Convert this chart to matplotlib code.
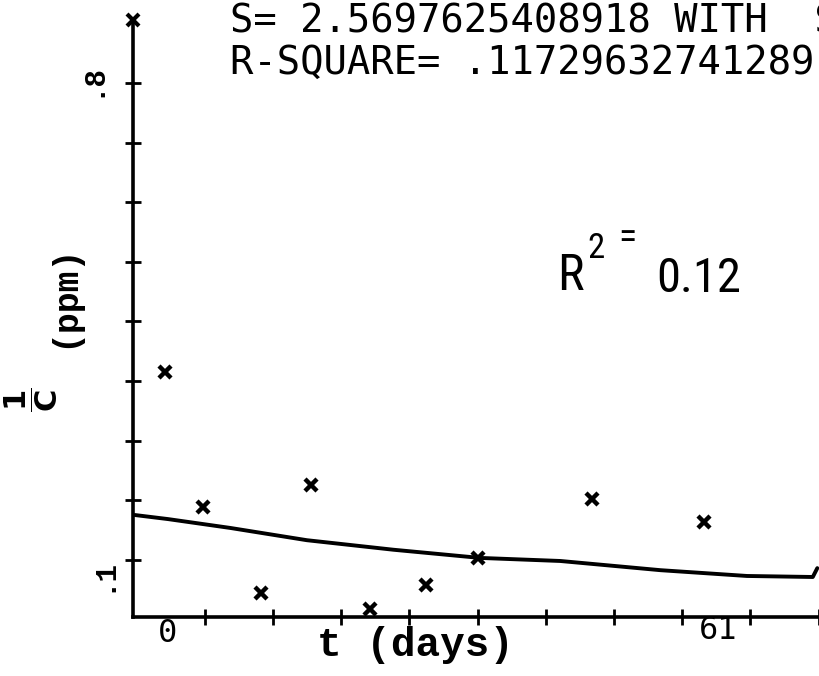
import matplotlib.pyplot as plt
from matplotlib import font_manager

t_obs = [-0.3, 3.9, 10.3, 15.9, 22.4, 28.6, 34.4, 47.0, 59.4]
inv_c = [0.376, 0.178, 0.052, 0.210, 0.028, 0.063, 0.103, 0.190, 0.156]

# fitted curve as drawn
t_fit = [-3.7, 0.0, 6.9, 15.4, 25.0, 34.6, 43.5, 54.6, 64.2, 71.5, 72.0]
y_fit = [0.166, 0.160, 0.147, 0.129, 0.115, 0.103, 0.0985, 0.085, 0.0765, 0.075, 0.088]

xtick_pos = [4.1 + 7.56 * k for k in range(10)]
ytick_pos = [0.1 + 0.0875 * k for k in range(9)]

mono = 'DejaVu Sans Mono'
typew = 'Liberation Mono'
names = {f.name for f in font_manager.fontManager.ttflist}
narrow = 'Roboto'
for cand in ['Liberation Sans Narrow', 'Roboto Condensed', 'Open Sans Condensed',
             'Noto Sans Condensed']:
    if cand in names:
        narrow = cand
        break

fig = plt.figure(figsize=(8.2, 6.76), dpi=100)
ax = fig.add_axes([0.1622, 0.0873, 0.8378, 0.8831])

ax.plot(t_fit, y_fit, color='black', lw=2.8, solid_capstyle='round')
ax.plot(t_obs, inv_c, linestyle='none', marker='x', color='black',
        markersize=9, markeredgewidth=3.2)

ax.set_xlim(-3.88, 72.3)
ax.set_ylim(0.0163, 0.8925)

for s in ['top', 'right']:
    ax.spines[s].set_visible(False)
for s in ['left', 'bottom']:
    ax.spines[s].set_linewidth(2.6)

ax.set_xticks(xtick_pos)
ax.set_yticks(ytick_pos)
ax.set_xticklabels([])
ax.set_yticklabels([])
ax.tick_params(direction='inout', length=11, width=2, color='black')

# axis end mark
ax.plot([0], [1.0], transform=ax.transAxes, marker='x', color='black',
        markersize=9, markeredgewidth=3, clip_on=False)

# tick labels
ax.text(0.0, -0.027, '0', transform=ax.get_xaxis_transform(), ha='center',
        va='center', fontsize=23, family=mono)
ax.text(61.0, -0.022, '61', transform=ax.get_xaxis_transform(), ha='center',
        va='center', fontsize=23, family=mono)
ax.text(-0.06, 0.805, '.8', transform=ax.get_yaxis_transform(), ha='center',
        va='center', rotation=90, fontsize=21, family=typew, fontweight='bold')
ax.text(-0.044, 0.078, '.1', transform=ax.get_yaxis_transform(), ha='center',
        va='center', rotation=90, fontsize=21, family=typew, fontweight='bold')

# axis labels
fig.text(0.507, 0.046, 't (days)', ha='center', va='center', fontsize=29.5,
         family=typew, fontweight='bold')
fig.text(0.077, 0.562, '(ppm)', ha='center', va='center', rotation=90,
         fontsize=25, family=typew, fontweight='bold')
fig.text(0.038, 0.408, r'$\mathbf{\dfrac{1}{C}}$', ha='center', va='center',
         rotation=90, fontsize=22, family=typew, fontweight='bold')

# annotations
fig.text(0.2805, 0.968, 'S= 2.5697625408918 WITH  S', ha='left', va='center',
         fontsize=28, family=mono)
fig.text(0.2805, 0.907, 'R-SQUARE= .11729632741289', ha='left', va='center',
         fontsize=28, family=mono)
fig.text(0.679, 0.571, 'R', ha='left', va='baseline', fontsize=36, family=narrow)
fig.text(0.716, 0.618, '2', ha='left', va='baseline', fontsize=25, family=narrow)
fig.text(0.765, 0.647, '=', ha='center', va='center', fontsize=27, family=narrow)
fig.text(0.800, 0.568, '0.12', ha='left', va='baseline', fontsize=35,
         family=narrow)

fig.savefig('out.png', dpi=100)
